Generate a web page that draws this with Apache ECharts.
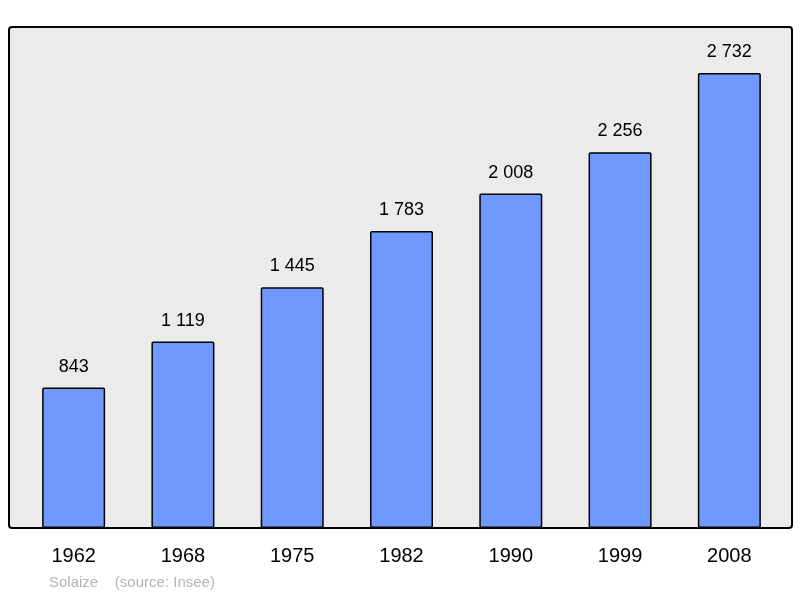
<!DOCTYPE html>
<html>
<head>
<meta charset="utf-8">
<script src="https://cdn.jsdelivr.net/npm/echarts@6/dist/echarts.min.js"></script>
<style>html,body{margin:0;padding:0;background:#fff}#c{width:800px;height:598px}</style>
</head>
<body>
<div id="c"></div>
<script>
var years = ['1962', '1968', '1975', '1982', '1990', '1999', '2008'];
var population = [843, 1119, 1445, 1783, 2008, 2256, 2732];

function fmt(v) {
    return String(v).replace(/\B(?=(\d{3})+(?!\d))/g, ' ');
}

var chart = echarts.init(document.getElementById('c'));
chart.setOption({
    animation: false,
    graphic: [
        {type: 'rect', z: -10, shape: {x: 9, y: 27, width: 783, height: 501, r: 3},
         style: {fill: '#ebebeb', stroke: '#000', lineWidth: 2}},
        {type: 'text', left: 49, top: 575,
         style: {text: 'Solaize    (source: Insee)', fill: '#b4b4b4', font: '15px "Liberation Sans", Arial'}}
    ],
    grid: {left: 19, right: 16, top: 27, bottom: 70},
    xAxis: {
        type: 'category',
        data: years,
        axisLine: {show: false},
        axisTick: {show: false},
        axisLabel: {color: '#000', fontSize: 20, fontFamily: 'Liberation Sans', margin: 18}
    },
    yAxis: {
        type: 'value', min: 0, max: 3008,
        show: false, splitLine: {show: false}
    },
    series: [{
        type: 'bar',
        data: population,
        barWidth: 63,
        itemStyle: {color: '#7099ff', borderColor: '#000', borderWidth: 1.5, borderRadius: 1},
        label: {
            show: true, position: 'top', distance: 12,
            color: '#000', fontSize: 18, fontFamily: 'Liberation Sans',
            formatter: function (p) { return fmt(p.value); }
        }
    }]
});
</script>
</body>
</html>
